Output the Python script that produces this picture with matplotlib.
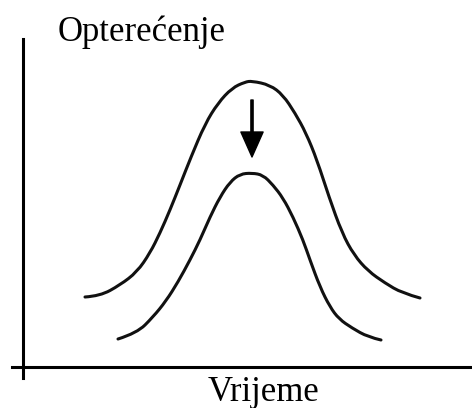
import matplotlib.pyplot as plt
from matplotlib.path import Path
from matplotlib.patches import PathPatch

# curve points (time, load) in pixel-like units
outer_t = [62, 77, 97, 114, 127, 137, 147, 157, 168, 182, 195, 209, 222, 229,
           247, 260, 272, 283, 294, 306, 319, 331, 345, 362, 379, 397]
outer_y = [70, 71, 82, 95, 114, 134, 157, 182, 210, 243, 264, 279, 285, 286,
           282, 272, 254, 234, 207, 170, 134, 112, 96, 84, 74, 69]

inner_t = [95, 114, 130, 143, 155, 167, 177, 187, 197, 207, 217, 229, 240,
           250, 260, 270, 280, 287, 297, 307, 316, 329, 345, 358]
inner_y = [28, 34, 50, 66, 85, 107, 127, 150, 170, 185, 193, 194, 192,
           182, 169, 150, 127, 107, 80, 60, 48, 39, 30, 27]

arrow_t = 229
arrow_from = 267
arrow_to = 210

y_label = "Opterećenje"
x_label = "Vrijeme"


def smooth_path(xs, ys):
    # quadratic b-spline through the read points as control points
    pts = list(zip(xs, ys))
    verts = [pts[0]]
    codes = [Path.MOVETO]
    for i in range(1, len(pts) - 1):
        if i < len(pts) - 2:
            end = ((pts[i][0] + pts[i + 1][0]) / 2, (pts[i][1] + pts[i + 1][1]) / 2)
        else:
            end = pts[-1]
        verts += [pts[i], end]
        codes += [Path.CURVE3, Path.CURVE3]
    return Path(verts, codes)


W, H = 472, 408
fig = plt.figure(figsize=(W / 100, H / 100), dpi=100)
ax = fig.add_axes([12 / W, (H - 378) / H, 460 / W, (378 - 39) / H])
ax.set_xlim(-11, 449)
ax.set_ylim(-11, 328)

lw = 2.2
for xs, ys in [(outer_t, outer_y), (inner_t, inner_y)]:
    ax.add_patch(PathPatch(smooth_path(xs, ys), fill=False, edgecolor="#111111",
                           lw=lw, capstyle="round"))
ax.annotate("", xy=(arrow_t, arrow_to), xytext=(arrow_t, arrow_from),
            arrowprops=dict(facecolor="black", edgecolor="black", width=1.6,
                            headwidth=16, headlength=18, shrink=0))

for s in ["top", "right"]:
    ax.spines[s].set_visible(False)
for s in ["left", "bottom"]:
    ax.spines[s].set_position(("data", 0))
    ax.spines[s].set_linewidth(lw)
    ax.spines[s].set_color("black")
ax.set_xticks([])
ax.set_yticks([])
ax.patch.set_alpha(0)

fnt = dict(family="Liberation Serif", fontsize=25, color="black")
fig.text(58 / W, 1 - 41 / H, y_label, ha="left", va="baseline", **fnt)
fig.text(263 / W, 1 - 401 / H, x_label, ha="center", va="baseline", **fnt)

fig.savefig("out.png", dpi=100)
